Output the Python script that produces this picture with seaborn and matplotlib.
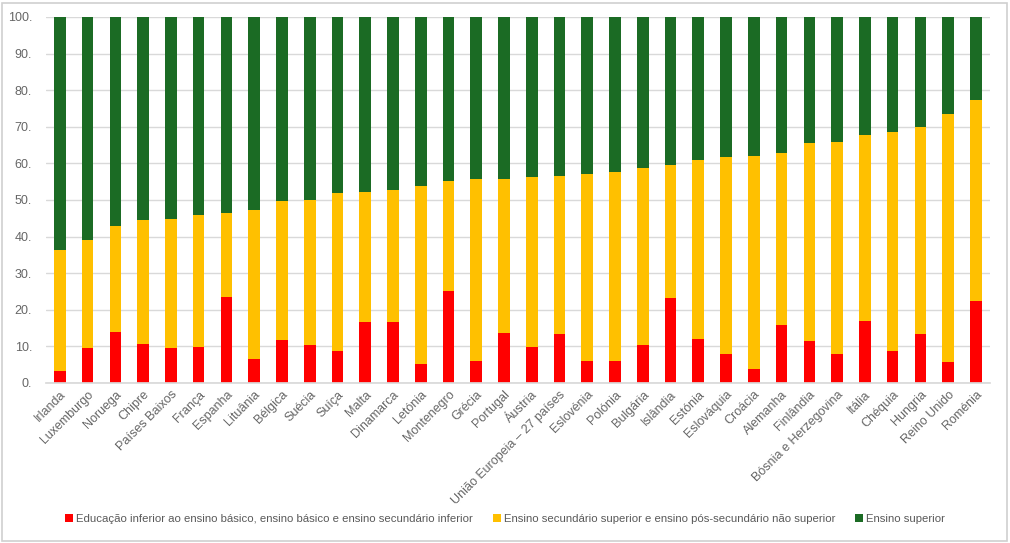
import matplotlib
matplotlib.use("Agg")
import matplotlib.pyplot as plt
import seaborn as sns
import pandas as pd
from matplotlib.patches import Rectangle

paises = ["Irlanda", "Luxemburgo", "Noruega", "Chipre", "Países Baixos", "França",
          "Espanha", "Lituânia", "Bélgica", "Suécia", "Suíça", "Malta", "Dinamarca",
          "Letónia", "Montenegro", "Grécia", "Portugal", "Áustria",
          "União Europeia – 27 países", "Eslovénia", "Polónia", "Bulgária", "Islândia",
          "Estónia", "Eslováquia", "Croácia", "Alemanha", "Finlândia",
          "Bósnia e Herzegovina", "Itália", "Chéquia", "Hungria", "Reino Unido", "Roménia"]

# shares (%) of each education level
basico = [3.4, 9.6, 14.0, 10.7, 9.6, 9.7, 23.4, 6.6, 11.8, 10.5, 8.7, 16.6, 16.6,
          5.3, 25.0, 6.1, 13.7, 9.7, 13.5, 6.1, 6.1, 10.5, 23.3,
          11.9, 7.9, 3.8, 15.9, 11.6, 8.0, 16.8, 8.7, 13.5, 5.8, 22.5]
secundario = [32.8, 29.4, 29.0, 33.9, 35.1, 36.1, 23.0, 40.8, 37.9, 39.4, 43.3, 35.6, 36.0,
              48.5, 30.1, 49.5, 41.9, 46.5, 43.1, 50.9, 51.5, 48.2, 36.2,
              49.1, 53.9, 58.2, 47.0, 53.9, 57.9, 50.9, 59.8, 56.4, 67.7, 54.7]
superior = [round(100 - a - b, 1) for a, b in zip(basico, secundario)]

legenda = ["Educação inferior ao ensino básico, ensino básico e ensino secundário inferior",
           "Ensino secundário superior e ensino pós-secundário não superior",
           "Ensino superior"]
cores = ["#ff0000", "#ffc000", "#1b6b24"]

df = pd.DataFrame({"pais": paises, "b": basico, "s": secundario, "u": superior})
df["c1"] = df["b"]
df["c2"] = df["b"] + df["s"]
df["c3"] = df["c2"] + df["u"]

sns.set_theme(style="white")
plt.rcParams["font.family"] = ["Liberation Sans", "DejaVu Sans"]

fig = plt.figure(figsize=(10.10, 5.43), dpi=100)
ax = fig.add_axes([0.0455, 0.2947, 0.9345, 0.674])

for col, cor, lab in zip(["c3", "c2", "c1"], cores[::-1], legenda[::-1]):
    sns.barplot(data=df, x="pais", y=col, color=cor, saturation=1, width=0.42,
                ax=ax, label=lab, linewidth=0)

ax.set_ylim(0, 100)
ax.set_xlim(-0.5, len(paises) - 0.5)
ax.set_yticks(range(0, 101, 10))
ax.set_yticklabels([f"{v}." for v in range(0, 101, 10)], color="#666666", fontsize=9)
ax.set_xticks(range(len(paises)))
ax.set_xticklabels(paises, rotation=45, ha="right", rotation_mode="anchor",
                   color="#666666", fontsize=9)
ax.tick_params(axis="y", length=0, pad=10)
ax.tick_params(axis="x", length=0, pad=4)
ax.set_xlabel("")
ax.set_ylabel("")
ax.yaxis.grid(True, color="#d9d9d9", linewidth=1)
ax.set_axisbelow(True)
for s in ["top", "right", "left"]:
    ax.spines[s].set_visible(False)
ax.spines["bottom"].set_color("#d9d9d9")

h, l = ax.get_legend_handles_labels()
order = [l.index(x) for x in legenda]
fig.legend([h[i] for i in order], legenda, loc="center", bbox_to_anchor=(0.5, 0.044),
           ncol=3, frameon=False, fontsize=8.2, handlelength=0.7, handleheight=0.7,
           handletextpad=0.3, columnspacing=1.7, labelcolor="#595959")
ax.get_legend().remove()

fig.patches.append(Rectangle((0.002, 0.004), 0.995, 0.99, transform=fig.transFigure,
                             fill=False, edgecolor="#d0d0d0", linewidth=1.2))

fig.savefig("out.png", dpi=100)
